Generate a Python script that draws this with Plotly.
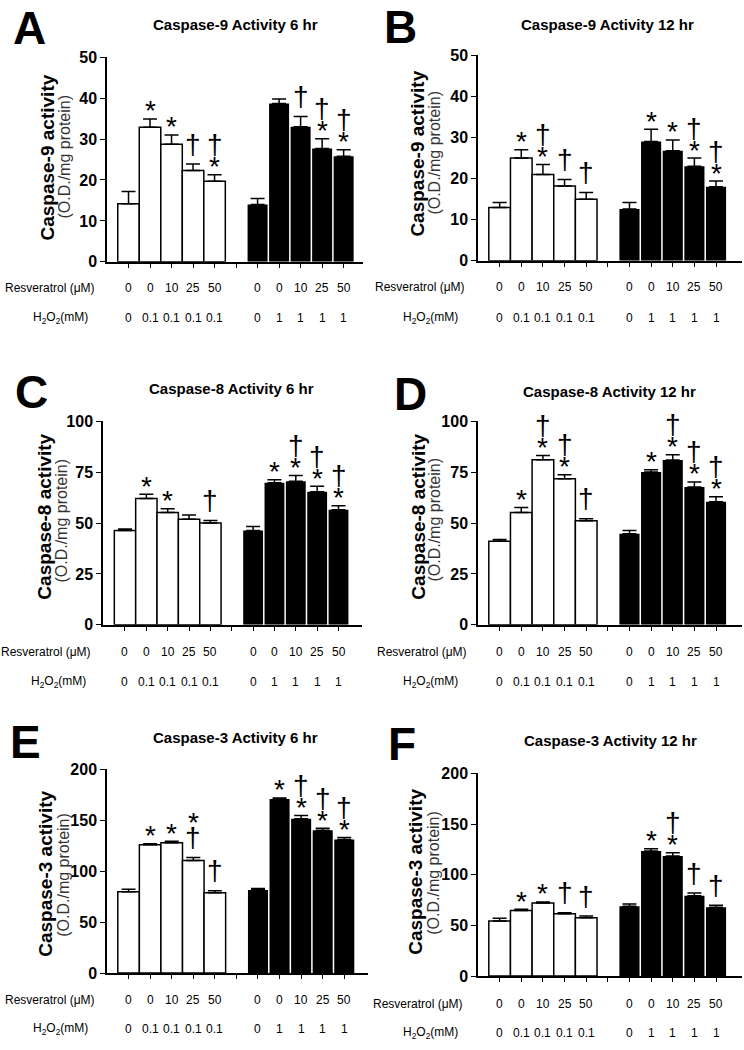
import plotly.graph_objects as go

# ---------------- data ----------------
positions = [0, 1, 2, 3, 4, 6, 7, 8, 9, 10]
resveratrol_labels = ["0", "0", "10", "25", "50", "0", "0", "10", "25", "50"]
h2o2_labels = ["0", "0.1", "0.1", "0.1", "0.1", "0", "1", "1", "1", "1"]
bar_colors = ["white"] * 5 + ["black"] * 5

a_title = "Caspase-9 Activity 6 hr"
a_mean = [14.2, 32.9, 28.7, 22.3, 19.7, 14.0, 38.7, 33.0, 27.7, 25.8]
a_err = [3.0, 2.0, 2.3, 1.6, 1.6, 1.5, 1.1, 2.5, 2.4, 1.6]
a_sig = ["", "*", "*", "†", "†*", "", "", "†", "†*", "†*"]

b_title = "Caspase-9 Activity 12 hr"
b_mean = [13.0, 25.0, 21.0, 18.2, 15.0, 12.6, 29.0, 26.8, 23.0, 18.0]
b_err = [1.2, 2.0, 2.4, 1.6, 1.6, 1.6, 3.0, 2.6, 2.0, 1.4]
b_sig = ["", "*", "†*", "†", "†", "", "*", "*", "†*", "†*"]

c_title = "Caspase-8 Activity 6 hr"
c_mean = [46.3, 62.1, 55.2, 51.9, 50.0, 46.3, 69.8, 70.5, 65.3, 56.5]
c_err = [0.8, 2.0, 1.8, 2.0, 1.3, 2.0, 1.5, 2.8, 2.8, 2.0]
c_sig = ["", "*", "*", "", "†", "", "*", "†*", "†*", "†*"]

d_title = "Caspase-8 Activity 12 hr"
d_mean = [41.1, 55.2, 81.1, 71.8, 51.1, 44.7, 75.0, 81.0, 67.7, 60.5]
d_err = [0.8, 2.4, 2.0, 1.9, 1.0, 1.6, 1.1, 2.5, 2.5, 2.4]
d_sig = ["", "*", "†*", "†*", "†", "", "*", "†*", "†*", "†*"]

e_title = "Caspase-3 Activity 6 hr"
e_mean = [80.0, 126.0, 128.0, 110.6, 79.0, 81.6, 171.0, 151.6, 140.3, 131.3]
e_err = [2.3, 1.0, 1.4, 2.9, 2.0, 1.6, 1.0, 3.2, 2.0, 1.9]
e_sig = ["", "*", "*", "*†", "†", "", "*", "†*", "†*", "†*"]

f_title = "Caspase-3 Activity 12 hr"
f_mean = [54.4, 64.7, 72.2, 61.5, 57.6, 69.0, 123.3, 118.4, 79.3, 68.0]
f_err = [2.6, 1.3, 0.9, 1.0, 1.6, 2.2, 2.3, 3.3, 2.6, 2.0]
f_sig = ["", "*", "*", "†", "†", "", "*", "†*", "†", "†"]

caspase_names = ["Caspase-9", "Caspase-9", "Caspase-8", "Caspase-8", "Caspase-3", "Caspase-3"]
panel_letters = ["A", "B", "C", "D", "E", "F"]
y_ticks_9 = [0, 10, 20, 30, 40, 50]
y_ticks_8 = [0, 25, 50, 75, 100]
y_ticks_3 = [0, 50, 100, 150, 200]

# ---------------- layout geometry (pixels) ----------------
W, H = 744, 1050
def px(v):
    return v / W
def py(v):
    return 1 - v / H

SANS = "Liberation Sans, Arial"

panels = [
    dict(title=a_title, mean=a_mean, err=a_err, sig=a_sig, ticks=y_ticks_9,
         xpx=(107, 363), ypx=(50, 258), xr=(-1.0, 10.9),
         title_xy=(235, 17), letter_xy=(29, 20),
         yt1=(48, 152), yt2=(65, 151), res=(97, 285), h2=(90, 315)),
    dict(title=b_title, mean=b_mean, err=b_err, sig=b_sig, ticks=y_ticks_9,
         xpx=(478, 742), ypx=(48, 257), xr=(-1.0, 11.2),
         title_xy=(607, 17), letter_xy=(400, 19),
         yt1=(418, 148), yt2=(435, 147), res=(467, 284), h2=(460, 315)),
    dict(title=c_title, mean=c_mean, err=c_err, sig=c_sig, ticks=y_ticks_8,
         xpx=(103, 362), ypx=(420, 627), xr=(-1.03, 11.1),
         title_xy=(231, 387), letter_xy=(31, 390),
         yt1=(45, 517), yt2=(62, 521), res=(93, 655), h2=(88, 685)),
    dict(title=d_title, mean=d_mean, err=d_err, sig=d_sig, ticks=y_ticks_8,
         xpx=(478, 742), ypx=(420, 627), xr=(-1.0, 11.2),
         title_xy=(609, 390), letter_xy=(411, 392),
         yt1=(419, 517), yt2=(435, 520), res=(469, 655), h2=(460, 685)),
    dict(title=e_title, mean=e_mean, err=e_err, sig=e_sig, ticks=y_ticks_3,
         xpx=(107, 368), ypx=(774, 981), xr=(-1.0, 11.1),
         title_xy=(235, 741), letter_xy=(26, 746),
         yt1=(46, 880), yt2=(64, 881), res=(97, 1008), h2=(90, 1038)),
    dict(title=f_title, mean=f_mean, err=f_err, sig=f_sig, ticks=y_ticks_3,
         xpx=(478, 742), ypx=(778, 984), xr=(-1.0, 11.2),
         title_xy=(610, 745), letter_xy=(402, 748),
         yt1=(416, 878), yt2=(434, 879), res=(465, 1012), h2=(460, 1042)),
]

fig = go.Figure()
annotations = []
layout = {}

# glyph sizes and vertical offsets (px above error-bar top) for stacked marks
SYM_SIZE = {"*": 28, "†": 28}
SYM_ADJ = {"*": -3, "†": 1}
FIRST_CENTER = {"*": 11, "†": 19}
SECOND_CENTER = {"*": 38, "†": 29}
ROW_FONT = 12

for k, p in enumerate(panels):
    n = k + 1
    xa = "x" if n == 1 else f"x{n}"
    ya = "y" if n == 1 else f"y{n}"
    xkey = "xaxis" if n == 1 else f"xaxis{n}"
    ykey = "yaxis" if n == 1 else f"yaxis{n}"

    for grp in (0, 1):
        idx = list(range(5)) if grp == 0 else list(range(5, 10))
        fig.add_trace(go.Bar(
            x=[positions[i] for i in idx],
            y=[p["mean"][i] for i in idx],
            width=1.0 if grp == 0 else 0.93,
            marker=dict(color=[bar_colors[i] for i in idx],
                        line=dict(color="black", width=1.5 if grp == 0 else 0)),
            error_y=dict(type="data", symmetric=False,
                         array=[p["err"][i] for i in idx],
                         arrayminus=[0] * 5,
                         color="black", thickness=1.5, width=7),
            xaxis=xa, yaxis=ya, showlegend=False, hoverinfo="skip",
        ))

    layout[xkey] = dict(domain=[px(p["xpx"][0]), px(p["xpx"][1])], range=list(p["xr"]),
                        anchor=ya, showline=True, linecolor="black", linewidth=1.5,
                        ticks="outside", ticklen=4, tickwidth=1.2, tickcolor="black",
                        tickvals=list(range(0, 11)), showticklabels=False,
                        showgrid=False, zeroline=False, fixedrange=True)
    layout[ykey] = dict(domain=[py(p["ypx"][1]), py(p["ypx"][0])],
                        range=[0, p["ticks"][-1]], anchor=xa,
                        showline=True, linecolor="black", linewidth=1.5,
                        ticks="outside", ticklen=5, tickwidth=1.2, tickcolor="black",
                        tickvals=p["ticks"],
                        tickfont=dict(family=SANS, size=16, color="black", weight="bold"),
                        showgrid=False, zeroline=False, fixedrange=True)

    annotations.append(dict(text=p["title"], xref="paper", yref="paper",
                            x=px(p["title_xy"][0]), y=py(p["title_xy"][1]),
                            xanchor="center", yanchor="middle", showarrow=False,
                            font=dict(family=SANS, size=15, color="black", weight="bold")))
    annotations.append(dict(text=panel_letters[k], xref="paper", yref="paper",
                            x=px(p["letter_xy"][0]), y=py(p["letter_xy"][1]),
                            xanchor="center", yanchor="middle", showarrow=False,
                            font=dict(family=SANS, size=46, color="black", weight="bold")))
    annotations.append(dict(text=caspase_names[k] + " activity", xref="paper", yref="paper",
                            x=px(p["yt1"][0]), y=py(p["yt1"][1]), textangle=-90,
                            xanchor="center", yanchor="middle", showarrow=False,
                            font=dict(family=SANS, size=19, color="black", weight="bold")))
    annotations.append(dict(text="(O.D./mg protein)", xref="paper", yref="paper",
                            x=px(p["yt2"][0]), y=py(p["yt2"][1]), textangle=-90,
                            xanchor="center", yanchor="middle", showarrow=False,
                            font=dict(family=SANS, size=16, color="#333333")))
    annotations.append(dict(text="Resveratrol (μM)", xref="paper", yref="paper",
                            x=px(p["res"][0]), y=py(p["res"][1]),
                            xanchor="right", yanchor="middle", showarrow=False,
                            font=dict(family=SANS, size=ROW_FONT, color="black")))
    annotations.append(dict(text="H<sub>2</sub>O<sub>2</sub>(mM)", xref="paper", yref="paper",
                            x=px(p["h2"][0]), y=py(p["h2"][1]),
                            xanchor="right", yanchor="middle", showarrow=False,
                            font=dict(family=SANS, size=ROW_FONT, color="black")))
    for i, pos in enumerate(positions):
        annotations.append(dict(text=resveratrol_labels[i], xref=xa, yref="paper",
                                x=pos, y=py(p["res"][1]), xanchor="center", yanchor="middle",
                                showarrow=False,
                                font=dict(family=SANS, size=ROW_FONT, color="black")))
        annotations.append(dict(text=h2o2_labels[i], xref=xa, yref="paper",
                                x=pos, y=py(p["h2"][1]), xanchor="center", yanchor="middle",
                                showarrow=False,
                                font=dict(family=SANS, size=ROW_FONT, color="black")))
        marks = list(reversed(p["sig"][i]))
        for j, s in enumerate(marks):
            center = FIRST_CENTER[s] if j == 0 else SECOND_CENTER[s]
            annotations.append(dict(text=s, xref=xa, yref=ya, x=pos,
                                    y=p["mean"][i] + p["err"][i],
                                    xanchor="center", yanchor="middle",
                                    yshift=center + SYM_ADJ[s], showarrow=False,
                                    font=dict(family=SANS, size=SYM_SIZE[s], color="black")))

fig.update_layout(width=W, height=H, margin=dict(l=0, r=0, t=0, b=0),
                  paper_bgcolor="white", plot_bgcolor="white",
                  showlegend=False, barmode="overlay", annotations=annotations, **layout)

fig.write_html("out.html", config={"displayModeBar": False},
               post_script="document.body.style.margin='0px';document.body.style.padding='0px';")
